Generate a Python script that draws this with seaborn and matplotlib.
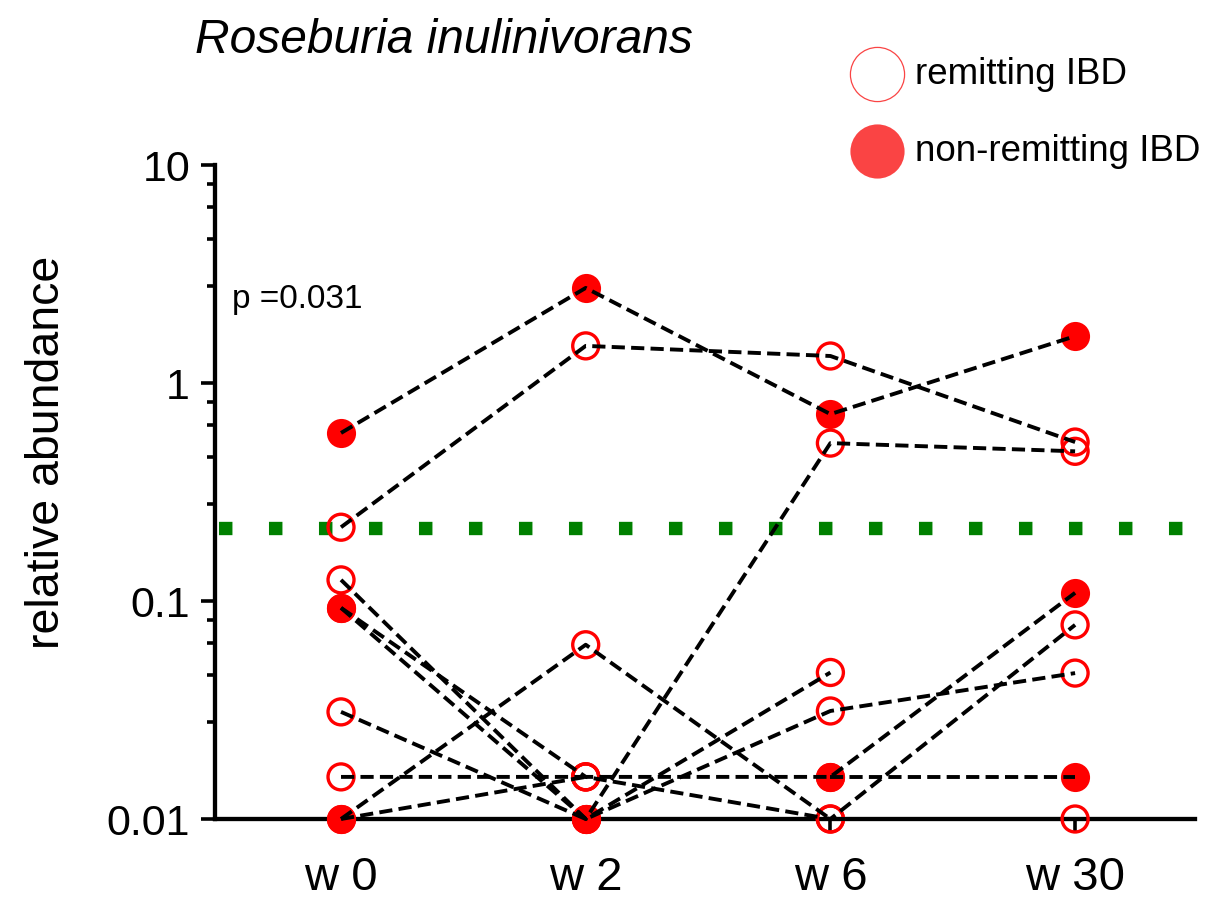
import numpy as np
import pandas as pd
import matplotlib
matplotlib.use("Agg")
import matplotlib.pyplot as plt
from matplotlib.lines import Line2D
from matplotlib.ticker import FixedLocator, NullFormatter
import seaborn as sns

# ---- data -------------------------------------------------------------
weeks = ["w 0", "w 2", "w 6", "w 30"]
subjects = [1, 2, 3, 4, 5, 6, 7, 8, 9, 10]
nan = np.nan

# relative abundance per patient at each visit (nan = no sample)
abund_w0 = [0.59, 0.218, 0.125, 0.093, 0.093, 0.031, 0.0156, 0.01, 0.01, nan]
abund_w2 = [2.73, 1.48, 0.01, 0.01, 0.0156, 0.01, 0.0156, 0.063, 0.0156, nan]
abund_w6 = [0.72, 1.33, 0.53, 0.047, 0.0156, 0.0313, 0.01, 0.01, nan, 0.0156]
abund_w30 = [1.64, 0.536, 0.486, nan, 0.109, 0.0467, 0.0777, 0.01, nan, 0.0156]

# clinical state at each visit: R = remitting, N = non-remitting
state_w0 = ["N", "R", "R", "N", "N", "R", "R", "N", "N", ""]
state_w2 = ["N", "R", "N", "N", "R", "N", "R", "R", "R", ""]
state_w6 = ["N", "R", "R", "R", "N", "R", "R", "R", "", "N"]
state_w30 = ["N", "R", "R", "", "N", "R", "R", "R", "", "N"]

threshold = 0.217
p_label = "p =0.031"
title = "Roseburia inulinivorans"
ylabel = "relative abundance"
legend_labels = ["remitting IBD", "non-remitting IBD"]

# ---- tidy table -------------------------------------------------------
rows = []
for wi, (vals, states) in enumerate(zip([abund_w0, abund_w2, abund_w6, abund_w30],
                                        [state_w0, state_w2, state_w6, state_w30])):
    for sid, v, s in zip(subjects, vals, states):
        rows.append({"subject": sid, "week": weeks[wi], "pos": wi,
                     "abundance": v, "state": s})
df = pd.DataFrame(rows).dropna(subset=["abundance"])

# ---- style ------------------------------------------------------------
sns.set_style("ticks")
plt.rcParams["font.family"] = ["Liberation Sans", "DejaVu Sans"]
plt.rcParams["lines.scale_dashes"] = False

W, H = 1211, 920
fig = plt.figure(figsize=(W / 100, H / 100), dpi=100)
ax = fig.add_axes([215 / W, 100 / H, 980 / W, 654 / H])
ax.set_yscale("log")
ax.set_ylim(0.01, 10)
ax.set_xlim(-0.515, 3.49)

red = "#ff0000"

# threshold line
ax.axhline(threshold, color="#008000", lw=9.6,
           linestyle=(33.5, (9.7, 26.3)), dash_capstyle="butt", zorder=2)

# open markers (remitting), then filled (non-remitting)
sns.scatterplot(data=df[df.state == "R"], x="pos", y="abundance", ax=ax,
                s=350, facecolor="none", edgecolor=red, linewidth=2.4,
                zorder=3, clip_on=False, legend=False)
sns.scatterplot(data=df[df.state == "N"], x="pos", y="abundance", ax=ax,
                s=440, color=red, linewidth=0,
                zorder=3.2, clip_on=False, legend=False)

# per-patient trajectories
sns.lineplot(data=df, x="pos", y="abundance", units="subject", estimator=None,
             sort=False, color="black", lw=2.8, linestyle=(0, (9.5, 4.5)),
             dash_capstyle="butt", ax=ax, zorder=4, clip_on=False, legend=False)

# ---- axes cosmetics ---------------------------------------------------
sns.despine(ax=ax)
for side in ["left", "bottom"]:
    ax.spines[side].set_linewidth(3.1)
    ax.spines[side].set_color("black")

ax.set_xticks(range(len(weeks)))
ax.set_xticklabels(weeks)
major = [0.01, 0.1, 1, 10]
ax.yaxis.set_major_locator(FixedLocator(major))
ax.set_yticklabels(["0.01", "0.1", "1", "10"])
minor = [d * (1 + 1.8 * k) for d in [0.01, 0.1, 1] for k in range(1, 5)]
ax.yaxis.set_minor_locator(FixedLocator(minor))
ax.yaxis.set_minor_formatter(NullFormatter())

ax.tick_params(axis="y", which="major", length=10, width=2.6, labelsize=31,
               pad=8, color="black", labelcolor="black")
ax.tick_params(axis="y", which="minor", length=6, width=2.6, color="black")
ax.tick_params(axis="x", which="major", length=9, width=2.6, labelsize=34,
               pad=17, color="black", labelcolor="black")
ax.set_xlabel("")
ax.set_ylabel("")

fig.text(47 / W, 1 - 452 / H, ylabel, rotation=90, ha="center", va="center",
         fontsize=33.5, color="black")
ax.text((232 - 215) / 980, (820 - 300) / 654, p_label, transform=ax.transAxes,
        ha="left", va="center", fontsize=24, color="black")
fig.text(195 / W, 1 - 53 / H, title, ha="left", va="baseline",
         fontsize=34.5, style="italic", color="black")

# legend keys
for i, (lab, filled) in enumerate(zip(legend_labels, [False, True])):
    yc = 1 - (75 + 77 * i) / H
    fig.add_artist(Line2D([877 / W], [yc], transform=fig.transFigure,
                          marker="o", markersize=39, linestyle="",
                          markerfacecolor="#fa4444" if filled else "none",
                          markeredgecolor="#fa4444",
                          markeredgewidth=0 if filled else 0.9))
    fig.text(915 / W, yc, lab, ha="left", va="center", fontsize=26.5,
             color="black")

fig.savefig("out.png", dpi=100)
